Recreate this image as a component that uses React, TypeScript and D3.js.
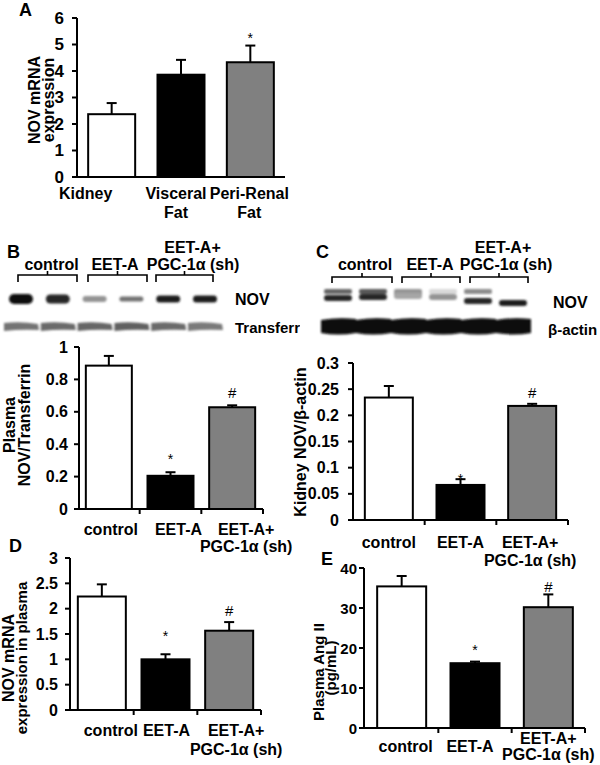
import React from "react";
import * as d3 from "d3";

const FONT = "'Liberation Sans', Arial, Helvetica, sans-serif";

// ---------- data ----------
const tissueCategories = ["Kidney", "Visceral Fat", "Peri-Renal Fat"];
const tissueLabelLines = [["Kidney"], ["Visceral", "Fat"], ["Peri-Renal", "Fat"]];
const panelAValues = [2.37, 3.86, 4.33];
const panelAErrors = [0.42, 0.56, 0.63];
const panelATicks = [0, 1, 2, 3, 4, 5, 6];

const treatmentCategories = ["control", "EET-A", "EET-A+PGC-1α(sh)"];
const treatmentLabelLines = [["control"], ["EET-A"], ["EET-A+", "PGC-1α (sh)"]];

const panelBValues = [0.885, 0.205, 0.628];
const panelBErrors = [0.06, 0.022, 0.012];
const panelBTicks = [0, 0.2, 0.4, 0.6, 0.8, 1];

const panelCValues = [0.234, 0.067, 0.218];
const panelCErrors = [0.022, 0.011, 0.004];
const panelCTicks = [0, 0.05, 0.1, 0.15, 0.2, 0.25, 0.3];

const panelDValues = [2.24, 1.0, 1.565];
const panelDErrors = [0.24, 0.1, 0.17];
const panelDTicks = [0, 0.5, 1, 1.5, 2, 2.5, 3];

const panelEValues = [35.4, 16.2, 30.2];
const panelEErrors = [2.6, 0.4, 3.2];
const panelETicks = [0, 10, 20, 30, 40];

const barFills = ["#ffffff", "#000000", "#808080"];

// significance symbols: bar index, symbol, value level of symbol centre
const panelAMarks = [{ i: 2, s: "*", v: 5.36 }];
const panelBMarks = [{ i: 1, s: "*", v: 0.327 }, { i: 2, s: "#", v: 0.722 }];
const panelCMarks = [{ i: 1, s: "*", v: 0.085 }, { i: 2, s: "#", v: 0.243 }];
const panelDMarks = [{ i: 1, s: "*", v: 1.52 }, { i: 2, s: "#", v: 1.96 }];
const panelEMarks = [{ i: 1, s: "*", v: 20.2 }, { i: 2, s: "#", v: 35.5 }];

// western blot lane densities (0 = blank, 1 = black)
const blotLanes = [0, 1, 2, 3, 4, 5];
const plasmaNovDensity = [0.95, 0.85, 0.42, 0.55, 0.88, 0.88];
const plasmaNovThickness = [10, 9, 6, 5, 7, 7];
const transferrinDensity = [0.55, 0.58, 0.6, 0.62, 0.58, 0.52];
const kidneyNovUpper = [0.6, 0.65, 0.42, 0.15, 0.45, 0];
const kidneyNovLower = [0.85, 0.85, 0.35, 0.42, 0.85, 0.88];
const betaActinDensity = [0.97, 0.97, 0.97, 0.97, 0.97, 0.97];

const groupLabels = ["control", "EET-A", "EET-A+", "PGC-1α (sh)"];

// ---------- helpers ----------
const gray = (d: number) => {
  const v = Math.round(255 * (1 - d));
  return `rgb(${v},${v},${v})`;
};

function T(props: any) {
  const { x, y, size = 16, weight = "bold", anchor = "start", rot = false, children, base } = props;
  return (
    <text
      transform={`translate(${x},${y})${rot ? " rotate(-90)" : ""}`}
      fontFamily={FONT}
      fontSize={size}
      fontWeight={weight}
      textAnchor={anchor}
      dominantBaseline={base || "auto"}
      fill="#000"
    >
      {children}
    </text>
  );
}

function BarPanel(p: any) {
  const x = d3.scaleBand<string>().domain(p.cats).range([p.bx0, p.bx1]);
  const y = d3.scaleLinear().domain([0, p.yMax]).range([p.yBottom, p.yTop]);
  const bw = p.barW;
  const bounds = [p.bx0, ...p.cats.map((c: string) => (x(c) as number) + x.bandwidth())];
  return (
    <g>
      {p.values.map((v: number, i: number) => {
        const cx = (x(p.cats[i]) as number) + x.bandwidth() / 2;
        return (
          <rect
            key={"b" + i}
            x={cx - bw / 2}
            y={y(v)}
            width={bw}
            height={y(0) - y(v)}
            fill={barFills[i]}
            stroke="#000"
            strokeWidth={2}
          />
        );
      })}
      {p.values.map((v: number, i: number) => {
        const cx = (x(p.cats[i]) as number) + x.bandwidth() / 2;
        const top = y(v + p.errors[i]);
        return (
          <g key={"e" + i} stroke="#000" strokeWidth={2}>
            <line x1={cx} x2={cx} y1={y(v)} y2={top} />
            <line x1={cx - 5} x2={cx + 5} y1={top} y2={top} />
          </g>
        );
      })}
      <line x1={p.axisX} x2={p.axisX} y1={p.yTop} y2={p.yBottom + 1} stroke="#000" strokeWidth={2} />
      <line x1={p.axisX} x2={p.bx1} y1={p.yBottom} y2={p.yBottom} stroke="#000" strokeWidth={2} />
      {p.ticks.map((t: number) => (
        <g key={"t" + t}>
          <line x1={p.axisX - 5} x2={p.axisX} y1={y(t)} y2={y(t)} stroke="#000" strokeWidth={2} />
          <T x={p.axisX - p.tickGap} y={y(t)} anchor="end" base="central" size={p.tickSize || 16}>
            {String(t)}
          </T>
        </g>
      ))}
      {p.xTicks &&
        bounds.slice(1).map((b: number, i: number) => (
          <line key={"xt" + i} x1={b} x2={b} y1={p.yBottom} y2={p.yBottom + 5} stroke="#000" strokeWidth={2} />
        ))}
      {p.labels.map((lines: string[], i: number) => {
        const cx = (x(p.cats[i]) as number) + x.bandwidth() / 2 + p.labelDx[i];
        const start = p.labelBase + (p.labelDy ? p.labelDy[i] : 0);
        return lines.map((ln, j) => (
          <T key={"l" + i + j} x={cx} y={start + j * p.lineGap} anchor="middle" size={16}>
            {ln}
          </T>
        ));
      })}
      {p.marks.map((m: any, k: number) => {
        const cx = (x(p.cats[m.i]) as number) + x.bandwidth() / 2;
        const cy = y(m.v);
        return m.s === "*" ? (
          <T key={"m" + k} x={cx} y={cy + 8} anchor="middle" size={14} weight="normal">
            *
          </T>
        ) : (
          <T key={"m" + k} x={cx} y={cy + 5.5} anchor="middle" size={15} weight="normal">
            #
          </T>
        );
      })}
    </g>
  );
}

function Bracket({ x0, x1, top, drop, rise }: any) {
  const mid = (x0 + x1) / 2;
  return (
    <path
      d={`M${x0},${top + drop} L${x0},${top} L${x1},${top} L${x1},${top + drop} M${mid},${top} L${mid},${top - rise}`}
      fill="none"
      stroke="#000"
      strokeWidth={1.6}
    />
  );
}

function BlotB() {
  const lane = d3.scalePoint<number>().domain(blotLanes).range([21, 205]);
  return (
    <g>
      <g filter="url(#blur1)">
        {blotLanes.map((l) => {
          const cx = lane(l) as number;
          const h = plasmaNovThickness[l];
          return (
            <rect key={"n" + l} x={cx - 12} y={299 - h / 2} width={24} height={h} rx={h / 2} fill={gray(plasmaNovDensity[l])} />
          );
        })}
        {blotLanes.map((l) => {
          const cx = lane(l) as number;
          return (
            <path
              key={"t" + l}
              d={`M${cx - 17},${323} Q${cx},${321} ${cx + 17},${324} L${cx + 18},${330} Q${cx},${329} ${cx - 17},${331} Z`}
              fill={gray(transferrinDensity[l])}
            />
          );
        })}
      </g>
      <Bracket x0={18} x1={77} top={275} drop={7} rise={4} />
      <Bracket x0={88} x1={147} top={275} drop={7} rise={4} />
      <Bracket x0={156} x1={213} top={275} drop={7} rise={4} />
      <T x={51.5} y={270} anchor="middle">{groupLabels[0]}</T>
      <T x={115} y={270} anchor="middle">{groupLabels[1]}</T>
      <T x={192.5} y={253} anchor="middle">{groupLabels[2]}</T>
      <T x={193} y={270} anchor="middle">{groupLabels[3]}</T>
      <T x={235} y={299} base="central">NOV</T>
      <g clipPath="url(#clipB)">
        <T x={235} y={327} base="central" size={15}>Transferrin</T>
      </g>
    </g>
  );
}

function BlotC() {
  const lane = d3.scalePoint<number>().domain(blotLanes).range([338, 513]);
  const lowerY = [298, 297, 296, 297, 301, 303];
  return (
    <g>
      <g filter="url(#blur1)">
        {blotLanes.map((l) => {
          const cx = lane(l) as number;
          return (
            <g key={"k" + l}>
              {kidneyNovUpper[l] > 0 && (
                <rect x={cx - 14} y={289} width={28} height={l === 2 ? 9 : 5} rx={2} fill={gray(kidneyNovUpper[l])} />
              )}
              <rect x={cx - 14} y={lowerY[l] - 3} width={28} height={6} rx={3} fill={gray(kidneyNovLower[l])} />
            </g>
          );
        })}
        {blotLanes.map((l) => {
          const cx = lane(l) as number;
          return (
            <path
              key={"a" + l}
              d={`M${cx - 17},${320} Q${cx},${317} ${cx + 18},${319} L${cx + 18},${333} Q${cx},${336} ${cx - 17},${333} Z`}
              fill={gray(betaActinDensity[l])}
            />
          );
        })}
      </g>
      <Bracket x0={332} x1={392} top={277} drop={6} rise={4} />
      <Bracket x0={402} x1={460} top={277} drop={6} rise={4} />
      <Bracket x0={470} x1={528} top={277} drop={6} rise={4} />
      <T x={365} y={270} anchor="middle">{groupLabels[0]}</T>
      <T x={430} y={270} anchor="middle">{groupLabels[1]}</T>
      <T x={503} y={253} anchor="middle">{groupLabels[2]}</T>
      <T x={506} y={270} anchor="middle">{groupLabels[3]}</T>
      <T x={553} y={302} base="central">NOV</T>
      <T x={548} y={329} base="central" size={15}>β-actin</T>
    </g>
  );
}

export default function App() {
  return (
    <svg
      width={600}
      height={765}
      viewBox="0 0 600 765"
      style={{ position: "absolute", left: 0, top: 0, background: "#fff" }}
    >
      <defs>
        <filter id="blur1" x="-20%" y="-50%" width="140%" height="200%">
          <feGaussianBlur stdDeviation="1" />
        </filter>
        <clipPath id="clipB">
          <rect x={0} y={300} width={300} height={50} />
        </clipPath>
      </defs>
      <rect x={0} y={0} width={600} height={765} fill="#fff" />

      {/* Panel A */}
      <T x={19} y={16} size={18}>A</T>
      <BarPanel
        cats={tissueCategories}
        labels={tissueLabelLines}
        values={panelAValues}
        errors={panelAErrors}
        ticks={panelATicks}
        marks={panelAMarks}
        yMax={6}
        yTop={18}
        yBottom={177}
        axisX={77}
        bx0={77}
        bx1={285}
        barW={47}
        tickGap={13}
        tickSize={17}
        xTicks={false}
        labelDx={[-26, -5, -1]}
        labelBase={199}
        lineGap={19}
      />
      <T x={40} y={100} rot anchor="middle">NOV mRNA</T>
      <T x={54} y={100} rot anchor="middle">expression</T>

      {/* Panel B */}
      <T x={7} y={258} size={18}>B</T>
      <BlotB />
      <BarPanel
        cats={treatmentCategories}
        labels={treatmentLabelLines}
        values={panelBValues}
        errors={panelBErrors}
        ticks={panelBTicks}
        marks={panelBMarks}
        yMax={1}
        yTop={347}
        yBottom={509}
        axisX={79}
        bx0={78}
        bx1={263}
        barW={46}
        tickGap={11}
        xTicks
        labelDx={[2, 8, 14]}
        labelBase={535}
        lineGap={17}
      />
      <T x={15} y={425} rot anchor="middle">Plasma</T>
      <T x={30} y={425} rot anchor="middle">NOV/Transferrin</T>

      {/* Panel C */}
      <T x={316} y={258} size={18}>C</T>
      <BlotC />
      <BarPanel
        cats={treatmentCategories}
        labels={treatmentLabelLines}
        values={panelCValues}
        errors={panelCErrors}
        ticks={panelCTicks}
        marks={panelCMarks}
        yMax={0.3}
        yTop={363}
        yBottom={520}
        axisX={353}
        bx0={353}
        bx1={568}
        barW={48}
        tickGap={14}
        xTicks
        labelDx={[0, 0, -2]}
        labelBase={548}
        lineGap={18}
      />
      <T x={306} y={442} rot anchor="middle">Kidney NOV/β-actin</T>

      {/* Panel D */}
      <T x={9} y={552} size={18}>D</T>
      <BarPanel
        cats={treatmentCategories}
        labels={treatmentLabelLines}
        values={panelDValues}
        errors={panelDErrors}
        ticks={panelDTicks}
        marks={panelDMarks}
        yMax={3}
        yTop={558}
        yBottom={710}
        axisX={70}
        bx0={70}
        bx1={261}
        barW={48}
        tickGap={12}
        xTicks
        labelDx={[9, 1, 7]}
        labelBase={736}
        lineGap={19}
      />
      <T x={14} y={658} rot anchor="middle">NOV mRNA</T>
      <T x={27} y={658} rot anchor="middle" size={15}>expression in plasma</T>

      {/* Panel E */}
      <T x={321} y={565} size={18}>E</T>
      <BarPanel
        cats={treatmentCategories}
        labels={treatmentLabelLines}
        values={panelEValues}
        errors={panelEErrors}
        ticks={panelETicks}
        marks={panelEMarks}
        yMax={40}
        yTop={568}
        yBottom={728}
        axisX={364}
        bx0={365}
        bx1={585}
        barW={49}
        tickGap={7}
        tickSize={15}
        xTicks
        labelDx={[4, -5, 0]}
        labelBase={752}
        labelDy={[0, 0, -8]}
        lineGap={16}
      />
      <T x={324} y={672} rot anchor="middle" size={15}>Plasma Ang II</T>
      <T x={336} y={668} rot anchor="middle" size={15}>(pg/mL)</T>
    </svg>
  );
}
